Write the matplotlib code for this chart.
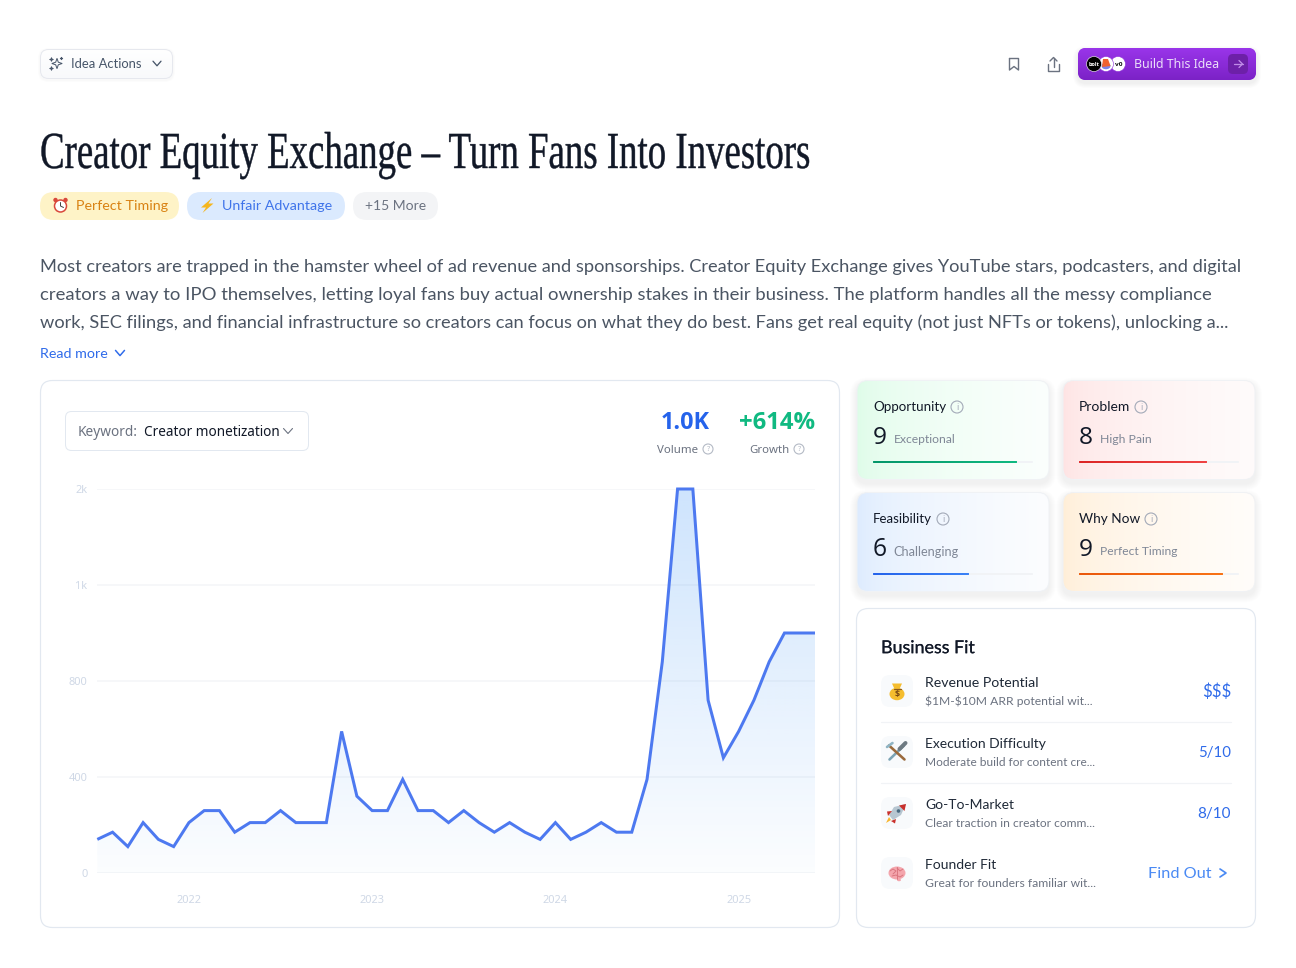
import numpy as np
import matplotlib
matplotlib.use("Agg")
import matplotlib.pyplot as plt
from matplotlib.patches import FancyBboxPatch, Circle, Polygon, Ellipse
from matplotlib.patheffects import AbstractPathEffect, withStroke
from matplotlib.transforms import Affine2D
from matplotlib.colors import to_rgb

# ---------- data ----------
volume = [140, 170, 110, 210, 140, 110, 210, 260, 260, 170, 210, 210, 260, 210, 210, 210,
          590, 320, 260, 260, 390, 260, 260, 210, 260, 210, 170, 210, 170, 140, 210, 140,
          170, 210, 170, 170, 390, 880, 1600, 1600, 720, 480, 590, 720, 880, 1000, 1000, 1000]
year_ticks = [6, 18, 30, 42]
year_labels = ["2022", "2023", "2024", "2025"]
y_ticks = [0, 400, 800, 1200, 1600]
y_labels = ["0", "400", "800", "1k", "2k"]

title = "Creator Equity Exchange \u2013 Turn Fans Into Investors"
paragraph = [
    "Most creators are trapped in the hamster wheel of ad revenue and sponsorships. Creator Equity Exchange gives YouTube stars, podcasters, and digital",
    "creators a way to IPO themselves, letting loyal fans buy actual ownership stakes in their business. The platform handles all the messy compliance",
    "work, SEC filings, and financial infrastructure so creators can focus on what they do best. Fans get real equity (not just NFTs or tokens), unlocking a...",
]
score_names = ["Opportunity", "Problem", "Feasibility", "Why Now"]
score_values = [9, 8, 6, 9]
score_notes = ["Exceptional", "High Pain", "Challenging", "Perfect Timing"]
fit_titles = ["Revenue Potential", "Execution Difficulty", "Go-To-Market", "Founder Fit"]
fit_notes = ["$1M-$10M ARR potential wit...", "Moderate build for content cre...",
             "Clear traction in creator comm...", "Great for founders familiar wit..."]
fit_values = ["$$$", "5/10", "8/10", "Find Out"]

# ---------- canvas ----------
W, H = 1296, 968
fig = plt.figure(figsize=(W / 100, H / 100), dpi=100, facecolor="white")
ax = fig.add_axes([0, 0, 1, 1])
ax.set_xlim(0, W)
ax.set_ylim(H, 0)
ax.axis("off")
ax.set_autoscale_on(False)

BODY = ["Lato", "DejaVu Sans"]
UI = ["Noto Sans", "DejaVu Sans"]
HEAVY = ["Open Sans", "DejaVu Sans"]


def T(x, y, s, px, color="#111827", ha="left", va="center_baseline", family=BODY, weight="normal", fit=None, z=10, stroke=0):
    t = ax.text(x, y - 0.8, s, fontsize=px * 0.72, color=color, ha=ha, va=va, family=family, weight=weight,
                zorder=z, parse_math=False)
    if fit is not None:
        w = t.get_window_extent(fig.canvas.get_renderer()).width
        t.set_fontsize(px * 0.72 * fit / w)
    if stroke:
        t.set_path_effects([withStroke(linewidth=stroke, foreground=color)])
    return t


def rbox(x0, y0, x1, y1, r, fc="white", ec="none", lw=1.0, z=2, alpha=None):
    p = FancyBboxPatch((x0, y0), x1 - x0, y1 - y0, boxstyle=f"round,pad=0,rounding_size={r}",
                       fc=fc, ec=ec, lw=lw * 0.72, zorder=z, alpha=alpha)
    ax.add_patch(p)
    return p


def shadow(x0, y0, x1, y1, r, dy=3, blur=8, alpha=0.012, z=1):
    for i in range(blur, 0, -1):
        rbox(x0 - i, y0 - i + dy, x1 + i, y1 + i + dy, r + i, fc="#0f172a", z=z, alpha=alpha)


def grad(patch, x0, y0, x1, y1, c0, c1, horizontal=True, z=3, power=1.0):
    a, b = np.array(to_rgb(c0)), np.array(to_rgb(c1))
    t = np.linspace(0, 1, 256) ** power
    img = a[None, :] * (1 - t[:, None]) + b[None, :] * t[:, None]
    img = img[None, :, :] if horizontal else img[:, None, :]
    im = ax.imshow(img, extent=(x0, x1, y1, y0), aspect="auto", zorder=z, interpolation="bilinear")
    im.set_clip_path(patch)
    ax.set_xlim(0, W)
    ax.set_ylim(H, 0)


def L(xs, ys, c="#475569", lw=1.5, z=11, **kw):
    ax.plot(xs, ys, color=c, lw=lw * 0.72, zorder=z, solid_capstyle="round", solid_joinstyle="round", **kw)


def chevron(cx, cy, w=4, h=2.5, c="#475569", lw=1.5, right=False):
    if right:
        L([cx - h, cx + h, cx - h], [cy - w, cy, cy + w], c, lw)
    else:
        L([cx - w, cx, cx + w], [cy - h, cy + h, cy - h], c, lw)


def info(cx, cy, r=6, c="#a3aab8", mark="i"):
    ax.add_patch(Circle((cx, cy), r, fc="none", ec=c, lw=0.8, zorder=11))
    T(cx, cy + 1.1, mark, r * 1.45, c, ha="center", va="center", family=UI)


class HScale(AbstractPathEffect):
    def __init__(self, sx, x0, stroke=0.3, color="#111827"):
        super().__init__()
        self.sx, self.x0, self.stroke, self.color = sx, x0, stroke, color

    def draw_path(self, renderer, gc, tpath, affine, rgbFace=None):
        tr = affine + Affine2D().translate(-self.x0, 0).scale(self.sx, 1).translate(self.x0, 0)
        g = renderer.new_gc()
        g.copy_properties(gc)
        g.set_linewidth(self.stroke)
        g.set_foreground(self.color)
        renderer.draw_path(g, tpath, tr, rgbFace)
        g.restore()


# ---------- top bar ----------
shadow(40, 49, 173, 79, 8, dy=1, blur=2, alpha=0.01)
p = rbox(40, 49, 173, 79, 8, fc="white", z=2)
grad(p, 40, 49, 173, 79, "#ffffff", "#f8f9fb", horizontal=False)
rbox(40.5, 49.5, 172.5, 78.5, 8, fc="none", ec="#e6e8ee", z=4)
for (cx, cy, r) in [(57, 63.5, 5.2), (51.5, 59.5, 1.8), (51.5, 68.5, 1.8), (61.5, 58.5, 1.4)]:
    a = np.arange(8) * np.pi / 4
    rr = np.where(np.arange(8) % 2 == 0, r, r * 0.35)
    ax.add_patch(Polygon(np.c_[cx + rr * np.sin(a), cy - rr * np.cos(a)], fc="none", ec="#475569", lw=0.7, zorder=11))
T(71, 64, "Idea Actions", 12.5, "#475569", fit=71)
chevron(157, 63.5, 4, 2.3, lw=1.3)

L([1009.5, 1018.5, 1018.5, 1014, 1009.5, 1009.5], [58.5, 58.5, 70, 66.5, 70, 58.5], "#6b7280", 1.4)
L([1048, 1048, 1059, 1059], [64, 70.5, 70.5, 64], "#6b7280", 1.4)
L([1053.5, 1053.5], [58, 66.5], "#6b7280", 1.4)
L([1050, 1053.5, 1057], [61, 57.5, 61], "#6b7280", 1.4)

shadow(1078, 48, 1256, 80, 8, dy=3, blur=5, alpha=0.012)
p = rbox(1078, 48, 1256, 80, 8, fc="#9333ea", z=2)
grad(p, 1078, 48, 1256, 80, "#9a35ea", "#7b22c6", horizontal=False)
ax.add_patch(Circle((1118, 64), 7.5, fc="white", ec="#8a2bd8", lw=0.4, zorder=5))
T(1119, 64.8, "v0", 6.5, "#111111", ha="center", va="center", family=HEAVY, weight="bold")
ax.add_patch(Circle((1106, 64), 7.5, fc="white", ec="#8a2bd8", lw=0.4, zorder=6))
ax.add_patch(Ellipse((1106, 66), 9, 6.5, fc="#7c83e8", zorder=6))
ax.add_patch(Polygon([(1103, 59), (1108, 59), (1110.5, 66), (1102, 67)], fc="#f0622e", zorder=6))
ax.add_patch(Circle((1094, 64), 7.5, fc="#000000", ec="white", lw=0.4, zorder=7))
T(1094, 64.8, "bolt", 5.5, "white", ha="center", va="center", family=HEAVY, weight="bold", z=12)
T(1134, 64, "Build This Idea", 12.5, "#eaddf9", family=UI, fit=86)
rbox(1228, 54, 1248, 74, 5, fc="#6d20a8", z=5)
L([1233.5, 1242.5], [64, 64], "#c08ce8", 1.3)
L([1239, 1242.5, 1239], [60.5, 64, 67.5], "#c08ce8", 1.3)

# ---------- title ----------
tt = ax.text(40, 168, title, fontsize=52 * 0.72, color="#111827", ha="left", va="baseline",
             family="Liberation Serif", zorder=10)
raw = tt.get_window_extent(fig.canvas.get_renderer()).width
tt.set_path_effects([HScale(770 / raw, 40)])

# ---------- tags ----------
rbox(40, 192, 179, 220, 14, fc="#fef3c7")
rbox(187, 192, 345, 220, 14, fc="#dbeafe")
rbox(353, 192, 438, 220, 14, fc="#f3f4f6")
T(75.5, 206, "Perfect Timing", 14, "#d98213", fit=92)
T(222, 206, "Unfair Advantage", 14, "#3f74ea", fit=111)
T(365, 206, "+15 More", 14, "#6b7280", fit=61)
# alarm clock
ax.add_patch(Circle((60.5, 206), 6.0, fc="white", ec="#d9483b", lw=1.1, zorder=5))
L([60.5, 60.5, 63.5], [202.5, 206, 207.5], "#444444", 1)
ax.add_patch(Circle((55.5, 200), 2.2, fc="#d9483b", zorder=5))
ax.add_patch(Circle((65.5, 200), 2.2, fc="#d9483b", zorder=5))
# lightning
ax.add_patch(Polygon([(212, 198), (201, 207.5), (206, 207.5), (202.5, 213), (213.5, 203.5), (208.5, 203.5)], fc="#f5b61e", zorder=5))

# ---------- paragraph ----------
for i, (line, wd) in enumerate(zip(paragraph, [1206, 1171, 1192])):
    T(40, 266 + 28 * i, line, 18, "#4b5563", fit=wd)
T(40, 353.5, "Read more", 14, "#2f6bea", fit=68)
chevron(120, 353, 4.5, 2.6, "#2f6bea", 1.5)

# ---------- chart card ----------
rbox(40.5, 380.5, 839.5, 927.5, 12, fc="white", ec="#e2e8f0", lw=1.2)
rbox(65.5, 411.5, 308.5, 450.5, 6, fc="white", ec="#e2e8f0", lw=1, z=3)
T(78, 431, "Keyword:", 14, "#6b7280", family=UI, fit=60)
T(143.5, 431, "Creator monetization", 14, "#111827", family=UI, fit=136)
chevron(288, 431, 4.5, 2.5, "#6b7280", 1.1)
T(710, 421, "1.0K", 24, "#2563eb", ha="right", family=HEAVY, weight="bold", fit=49)
T(815, 421, "+614%", 24, "#10b981", ha="right", family=HEAVY, weight="bold", fit=76)
T(657, 449.5, "Volume", 12, "#6b7280", family=UI, fit=41)
info(708, 449, 5, "#b4bac5", "?")
T(749, 449.5, "Growth", 12, "#6b7280", family=UI, fit=40)
info(799, 449, 5, "#b4bac5", "?")

chart = fig.add_axes([97.3 / W, 1 - 873 / H, (815 - 97.3) / W, (873 - 489) / H], zorder=5)
chart.patch.set_alpha(0)
x = np.arange(len(volume))
chart.set_xlim(0, len(volume) - 1)
chart.set_ylim(0, 1600)
for s in chart.spines.values():
    s.set_visible(False)
chart.set_yticks(y_ticks, y_labels)
chart.set_xticks(year_ticks, year_labels)
chart.tick_params(axis="both", length=0, labelsize=11 * 0.72, labelcolor="#cfd8e6")
chart.tick_params(axis="y", pad=7)
chart.tick_params(axis="x", pad=16)
for lab in chart.get_xticklabels() + chart.get_yticklabels():
    lab.set_family(UI)
chart.grid(axis="y", color="#f5f6f8", lw=1.6 * 0.72)
chart.set_axisbelow(True)
area = chart.fill_between(x, volume, 0, color="none")
n = 256
rgba = np.zeros((n, 1, 4))
rgba[..., :3] = to_rgb("#4a9bf8")
rgba[:, 0, 3] = np.linspace(0.27, 0.02, n)
im = chart.imshow(rgba, extent=(0, len(volume) - 1, 0, 1600), origin="upper", aspect="auto", zorder=2)
im.set_clip_path(area.get_paths()[0], transform=chart.transData)
chart.plot(x, volume, color="#4d79f0", lw=3 * 0.72, zorder=3, clip_on=False,
           solid_joinstyle="miter", solid_capstyle="butt")

# ---------- score cards ----------
cards = [(857, 380.5), (1063, 380.5), (857, 492.5), (1063, 492.5)]
left_c = ["#dcfce7", "#fee2e2", "#dbeafe", "#ffedd5"]
right_c = ["#fbfffd", "#fffbfb", "#fcfdff", "#fffdfa"]
bar_c0 = ["#059669", "#dc2626", "#2563eb", "#ea580c"]
bar_c1 = ["#10b981", "#ef4444", "#3b82f6", "#f97316"]
label_w = [73, 51, 59, 61]
note_w = [62, 52, 65, 78]
for i, (cx, cy) in enumerate(cards):
    x1, y1 = cx + 192, cy + 99
    shadow(cx, cy, x1, y1, 11, dy=4, blur=7, alpha=0.006)
    p = rbox(cx, cy, x1, y1, 11, fc=left_c[i], z=2)
    grad(p, cx, cy, x1, y1, left_c[i], right_c[i], power=0.5)
    rbox(cx, cy, x1, y1, 11, fc="none", ec="#f0f2f5", lw=1, z=4)
    bx = cx + 16
    T(bx, cy + 26.5, score_names[i], 14.5, "#111827", fit=label_w[i])
    info(bx + label_w[i] + 11, cy + 26.5, 6)
    T(bx, cy + 55, str(score_values[i]), 24, "#111827", family=HEAVY, fit=14)
    T(bx + 20.5, cy + 59, score_notes[i], 12.5, "#7f8796", fit=note_w[i])
    rbox(bx, cy + 80.5, bx + 160, cy + 82.5, 1, fc="#f1f3f6", z=5)
    p = rbox(bx, cy + 80.5, bx + 160 * score_values[i] / 10, cy + 82.5, 1, fc=bar_c1[i], z=6)
    grad(p, bx, cy + 80.5, bx + 160 * score_values[i] / 10, cy + 82.5, bar_c0[i], bar_c1[i], z=7)

# ---------- business fit ----------
rbox(856.5, 608.5, 1255.5, 927.5, 12, fc="white", ec="#e2e8f0", lw=1.2)
T(881, 647.5, "Business Fit", 18, "#111827", fit=94, stroke=0.1)
row_y = [691, 752, 813, 873]
val_w = [29, 33, 33.5]
tw = [114, 121, 89, 71]
nw = [169, 170.5, 170, 170.5]
for i, y in enumerate(row_y):
    rbox(881, y - 16, 913, y + 16, 9, fc="#f8fafc", z=3)
    T(925, y - 8.2, fit_titles[i], 14, "#1f2937", fit=tw[i])
    T(925, y + 10.5, fit_notes[i], 12, "#6b7280", fit=nw[i])
    if i < 3:
        T(1231, y + 0.5, fit_values[i], 16, "#2f6bea", ha="right", fit=val_w[i])
T(1148, 873.5, fit_values[3], 16, "#4a8af4", fit=63)
chevron(1223, 873, 4, 3, "#4a8af4", 1.7, right=True)
for y in [721.5, 782.5]:
    L([881, 1231], [y, y], "#f1f3f6", 1.2, z=3)

# money bag
ax.add_patch(Ellipse((897, 694), 15, 12.5, fc="#f5bd2e", zorder=5))
ax.add_patch(Polygon([(892, 683.5), (902, 683.5), (899.5, 689), (894.5, 689)], fc="#f5bd2e", zorder=5))
L([893.5, 900.5], [688.5, 688.5], "#8a5a1b", 1.2)
T(897, 695.3, "$", 9, "#7a4a12", ha="center", va="center", family=HEAVY, weight="bold")
# tools
L([889.5, 904], [759.5, 745.5], "#7ba3b5", 2.6)
L([904.5, 889], [759.5, 745.5], "#9a6a3c", 2.6)
L([899.5, 905.5], [749, 743], "#6e7a82", 4)
L([887, 892.5], [747, 743], "#8fb4c4", 2.6)
# rocket
ax.add_patch(Polygon([(906, 804), (894, 807), (889, 815), (893, 820), (901, 815)], fc="#b7c6d1", zorder=5))
ax.add_patch(Polygon([(906, 804), (899, 805.5), (904.5, 811)], fc="#c9302c", zorder=6))
ax.add_patch(Polygon([(892, 811), (887, 811.5), (888, 816)], fc="#c9302c", zorder=5))
ax.add_patch(Polygon([(896, 819), (895, 823.5), (891, 821)], fc="#c9302c", zorder=5))
ax.add_patch(Polygon([(889, 817), (886, 823), (891, 820)], fc="#f8b62d", zorder=5))
ax.add_patch(Circle((898.5, 811), 1.8, fc="#4a6a80", zorder=6))
# brain
ax.add_patch(Ellipse((897, 873), 17, 13, fc="#f4a6ad", zorder=5))
for xs, ys in [([890, 893, 896, 893], [871, 869, 871, 874]), ([897, 900, 903], [868, 871, 869]),
               ([892, 896, 900, 903], [876, 875, 877, 875]), ([897, 897], [867, 879])]:
    L(xs, ys, "#d9737d", 0.9)
ax.add_patch(Ellipse((899, 880), 4, 2.5, fc="#f4a6ad", zorder=5))

fig.savefig("out.png", dpi=100)
